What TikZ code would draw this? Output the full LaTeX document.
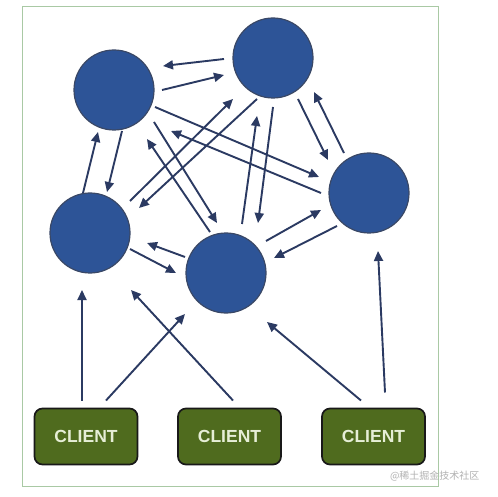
\documentclass[tikz,border=0pt]{standalone}
\usepackage{fontspec}
\setsansfont{Liberation Sans}
\newfontfamily\cjkwm{Noto Sans CJK SC}
\usetikzlibrary{arrows.meta,calc}
\definecolor{frameg}{HTML}{A9C9A4}
\definecolor{nodeblue}{HTML}{2D5497}
\definecolor{nodeedge}{HTML}{3A4866}
\definecolor{arrowc}{HTML}{2B3A62}
\definecolor{clientg}{HTML}{4F6B1E}
\definecolor{clienttext}{HTML}{E6EED6}
\tikzset{
  srv/.style={circle,fill=nodeblue,draw=nodeedge,line width=1.2pt,minimum size=80pt,inner sep=0pt},
  client/.style={rectangle,rounded corners=8pt,fill=clientg,draw=black!90,line width=1.7pt,
    minimum width=103pt,minimum height=56pt,text=clienttext,font=\sffamily\bfseries\fontsize{17.5}{17.5}\selectfont},
  arr/.style={draw=arrowc,line width=1.9pt,-{Triangle[length=10pt,width=9pt]}}
}
\begin{document}
\begin{tikzpicture}[x=1pt,y=-1pt]
\useasboundingbox (0,0) rectangle (498,497);
\fill[white] (0,0) rectangle (498,497);
\draw[frameg,line width=1pt] (22,7) rectangle (438,486);
\node[srv] (A) at (114,90) {};
\node[srv] (B) at (273,58) {};
\node[srv] (C) at (369,193) {};
\node[srv] (D) at (90,233) {};
\node[srv] (E) at (226,273) {};
\node[client] (K1) at (86,436.5) {CLIENT};
\node[client] (K2) at (229.5,436.5) {CLIENT};
\node[client] (K3) at (373.5,436.5) {CLIENT};
% A-B
\draw[arr] ($(B)+(-49,1)$) -- ($(A)+(49,-24)$);
\draw[arr] ($(A)+(48,0)$) -- ($(B)+(-49,17)$);
% A-D
\draw[arr] ($(A)+(8,41)$) -- ($(D)+(17,-41)$);
\draw[arr] ($(D)+(-7,-40)$) -- ($(A)+(-16,42)$);
% A-C
\draw[arr] ($(A)+(41,17)$) -- ($(C)+(-50,-16)$);
\draw[arr] ($(C)+(-48,0)$) -- ($(A)+(57,41)$);
% A-E
\draw[arr] ($(A)+(40,32)$) -- ($(E)+(-9,-50)$);
\draw[arr] ($(E)+(-16,-41)$) -- ($(A)+(33,49)$);
% B-D
\draw[arr] ($(D)+(40,-32)$) -- ($(B)+(-40,41)$);
\draw[arr] ($(B)+(-16,41)$) -- ($(D)+(49,-25)$);
% B-E
\draw[arr] ($(E)+(16,-49)$) -- ($(B)+(-16,58)$);
\draw[arr] ($(B)+(0,49)$) -- ($(E)+(32,-50)$);
% B-C
\draw[arr] ($(B)+(25,41)$) -- ($(C)+(-41,-33)$);
\draw[arr] ($(C)+(-25,-40)$) -- ($(B)+(41,34)$);
% C-E
\draw[arr] ($(E)+(40,-32)$) -- ($(C)+(-48,17)$);
\draw[arr] ($(C)+(-32,33)$) -- ($(E)+(48,-15)$);
% D-E
\draw[arr] ($(D)+(40,16)$) -- ($(E)+(-50,0)$);
\draw[arr] ($(E)+(-41,-16)$) -- ($(D)+(57,10)$);
% clients
\draw[arr] ($(K1)+(-4,-36)$) -- ($(D)+(-8,57)$);
\draw[arr] ($(K1)+(20,-36)$) -- ($(E)+(-41,41)$);
\draw[arr] ($(K2)+(3.5,-36)$) -- ($(D)+(41,57)$);
\draw[arr] ($(K3)+(-12.5,-36)$) -- ($(E)+(41,49)$);
\draw[arr] ($(K3)+(11.5,-44)$) -- ($(C)+(9,58)$);
\node[text=black!30,font=\cjkwm\fontsize{10}{10}\selectfont,anchor=east] (wm) at (483,476) {@稀土掘金技术社区};
\end{tikzpicture}
\end{document}
